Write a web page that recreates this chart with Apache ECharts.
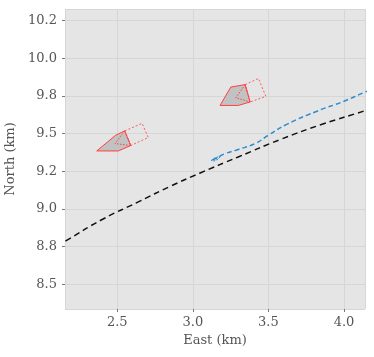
<!DOCTYPE html>
<html>
<head>
<meta charset="utf-8">
<script src="https://cdn.jsdelivr.net/npm/echarts@6/dist/echarts.min.js"></script>
<style>
  html, body { margin: 0; padding: 0; background: #fff; }
  #chart { width: 374px; height: 357px; }
</style>
</head>
<body>
<div id="chart"></div>
<script>
// coastline-ish reference track (black dashed)
const refEast = [2.10, 2.165, 2.40, 2.646, 2.85, 3.049, 3.30, 3.577, 3.85, 4.139, 4.20]
const refNorth = [8.755, 8.792, 8.93, 9.050, 9.150, 9.239, 9.345, 9.460, 9.560, 9.652, 9.672]

// own ship track (blue dashed)
const trackEast = [3.13, 3.16, 3.213, 3.30, 3.412, 3.50, 3.618, 3.817, 4.0, 4.139, 4.20]
const trackNorth = [9.325, 9.34, 9.367, 9.395, 9.434, 9.49, 9.56, 9.647, 9.715, 9.776, 9.80]

// small blue ship at start of track
const startShip = [[3.122, 9.322], [3.14, 9.336], [3.185, 9.352], [3.17, 9.333], [3.14, 9.318]]

// target ships: hull, forward box, inner triangle
const ship1Hull = [[2.364, 9.385], [2.489, 9.489], [2.549, 9.518], [2.589, 9.421], [2.507, 9.385]]
const ship1Box = [[2.549, 9.518], [2.664, 9.568], [2.705, 9.474], [2.589, 9.421]]
const ship1Tri = [[2.549, 9.518], [2.485, 9.434], [2.589, 9.421]]

const ship2Hull = [[3.180, 9.687], [3.251, 9.809], [3.346, 9.825], [3.379, 9.710], [3.301, 9.687]]
const ship2Box = [[3.346, 9.825], [3.434, 9.866], [3.483, 9.747], [3.379, 9.710]]
const ship2Tri = [[3.346, 9.825], [3.284, 9.738], [3.379, 9.710]]

const xTicks = [2.5, 3.0, 3.5, 4.0]
const xTickLabels = ['2.5', '3.0', '3.5', '4.0']
const yTicks = [8.5, 8.75, 9.0, 9.25, 9.5, 9.75, 10.0, 10.25]
const yTickLabels = ['8.5', '8.8', '9.0', '9.2', '9.5', '9.8', '10.0', '10.2']

const font = 'DejaVu Serif'
const labelColor = '#555'

const tickLabel = (ticks, labels) => (v) => {
  const i = ticks.findIndex(t => Math.abs(t - v) < 1e-6)
  return i >= 0 ? labels[i] : ''
}

const polygonSeries = (pts, style) => ({
  type: 'custom',
  coordinateSystem: 'cartesian2d',
  silent: true,
  clip: true,
  data: pts,
  renderItem: (params, api) => {
    if (params.dataIndex !== 0) return
    return {
      type: 'polygon',
      shape: { points: pts.map(p => api.coord(p)) },
      style: style
    }
  }
})

const zip = (a, b) => a.map((v, i) => [v, b[i]])

const chart = echarts.init(document.getElementById('chart'))

chart.setOption({
  animation: false,
  backgroundColor: '#fff',
  grid: {
    left: 65,
    right: 9,
    top: 9,
    bottom: 48,
    containLabel: false,
    outerBoundsMode: 'none',
    show: true,
    backgroundColor: '#e5e5e5',
    borderWidth: 0
  },
  xAxis: {
    type: 'value',
    min: 2.154,
    max: 4.139,
    minInterval: 0.5,
    maxInterval: 0.5,
    splitNumber: 4,
    name: 'East (km)',
    nameLocation: 'middle',
    nameGap: 25,
    nameTextStyle: { fontFamily: font, fontSize: 13, color: labelColor },
    axisLine: { show: false },
    axisTick: { show: true, length: 3, lineStyle: { color: '#777' } },
    axisLabel: {
      fontFamily: font,
      fontSize: 13,
      color: labelColor,
      margin: 7,
      showMinLabel: false,
      showMaxLabel: false,
      formatter: tickLabel(xTicks, xTickLabels)
    },
    splitLine: { show: true, lineStyle: { color: '#d6d6d6', width: 1 } }
  },
  yAxis: {
    type: 'value',
    min: 8.336,
    max: 10.327,
    minInterval: 0.25,
    maxInterval: 0.25,
    splitNumber: 8,
    name: 'North (km)',
    nameLocation: 'middle',
    nameGap: 41,
    nameTextStyle: { fontFamily: font, fontSize: 13, color: labelColor },
    axisLine: { show: false },
    axisTick: { show: true, length: 3, lineStyle: { color: '#777' } },
    axisLabel: {
      fontFamily: font,
      fontSize: 13,
      color: labelColor,
      margin: 8,
      showMinLabel: false,
      showMaxLabel: false,
      formatter: tickLabel(yTicks, yTickLabels)
    },
    splitLine: { show: true, lineStyle: { color: '#d6d6d6', width: 1 } }
  },
  series: [
    {
      type: 'line',
      data: zip(refEast, refNorth),
      symbol: 'none',
      smooth: true,
      clip: true,
      lineStyle: { color: '#111', width: 1.5, type: [6, 4] }
    },
    {
      type: 'line',
      data: zip(trackEast, trackNorth),
      symbol: 'none',
      smooth: true,
      clip: true,
      lineStyle: { color: '#2b8cd0', width: 1.5, type: [5, 3] }
    },
    polygonSeries(startShip, { fill: 'none', stroke: '#2b8cd0', lineWidth: 1, lineDash: [2, 1] }),
    polygonSeries(ship1Hull, { fill: '#c2c2c2', stroke: '#ff4040', lineWidth: 1 }),
    polygonSeries(ship1Box, { fill: 'none', stroke: '#ff5a5a', lineWidth: 1, lineDash: [2, 2] }),
    polygonSeries(ship1Tri, { fill: 'none', stroke: '#ff4040', lineWidth: 1, lineDash: [1.5, 1.5] }),
    polygonSeries(ship2Hull, { fill: '#c2c2c2', stroke: '#ff4040', lineWidth: 1 }),
    polygonSeries(ship2Box, { fill: 'none', stroke: '#ff5a5a', lineWidth: 1, lineDash: [2, 2] }),
    polygonSeries(ship2Tri, { fill: 'none', stroke: '#ff4040', lineWidth: 1, lineDash: [1.5, 1.5] })
  ]
})
</script>
</body>
</html>
